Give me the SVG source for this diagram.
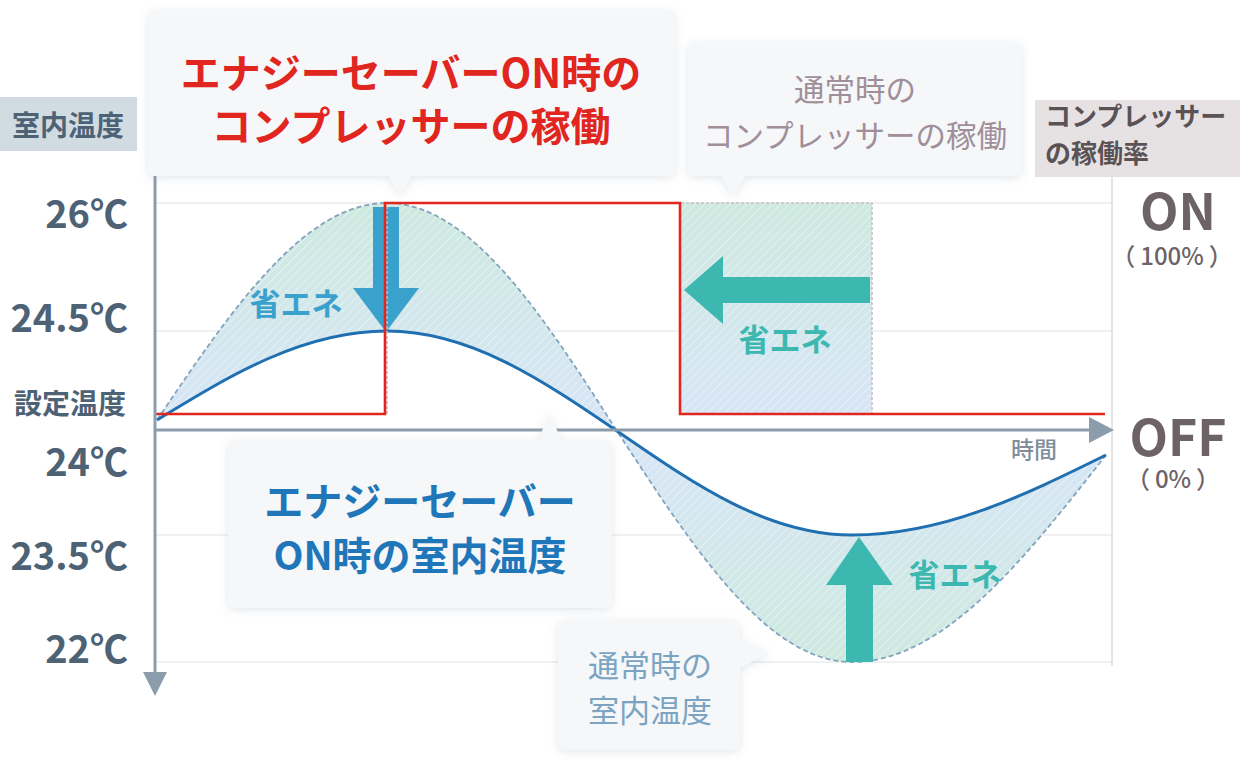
<svg xmlns="http://www.w3.org/2000/svg" width="1240" height="780" viewBox="0 0 1240 780">
<defs>
<style>
.t{font-family:'Noto Sans CJK JP','Noto Sans',sans-serif}
.ax{font-family:'Noto Sans CJK JP','Noto Sans',sans-serif;font-weight:700;fill:#4e6275;font-size:38px;text-anchor:end}
.grid{stroke:#e8ebee;stroke-width:1.5;fill:none}
.box{fill:#f5f7f9;filter:url(#sh)}
.se{font-family:'Noto Sans CJK JP','Noto Sans',sans-serif;font-weight:700;font-size:31px}
</style>
<filter id="sh" x="-10%" y="-20%" width="120%" height="140%">
<feDropShadow dx="0" dy="2" stdDeviation="4" flood-color="#7d8d9c" flood-opacity="0.22"/>
</filter>
<linearGradient id="g" gradientUnits="userSpaceOnUse" x1="0" y1="203" x2="0" y2="662">
<stop offset="0" stop-color="#cde9df"/>
<stop offset="0.42" stop-color="#d6e6f4"/>
<stop offset="0.58" stop-color="#d6e6f4"/>
<stop offset="1" stop-color="#cde9df"/>
</linearGradient>
<pattern id="hatch" patternUnits="userSpaceOnUse" width="6" height="6" patternTransform="rotate(45)">
<line x1="0" y1="0" x2="0" y2="6" stroke="#ffffff" stroke-width="2" stroke-opacity="0.4"/>
</pattern>
</defs>
<rect width="1240" height="780" fill="#ffffff"/>

<g id="grid">
<line class="grid" x1="155" y1="203" x2="1112" y2="203"/>
<line class="grid" x1="155" y1="331" x2="1112" y2="331"/>
<line class="grid" x1="155" y1="535" x2="1112" y2="535"/>
<line class="grid" x1="155" y1="662" x2="1112" y2="662"/>
<line x1="1112" y1="175" x2="1112" y2="666" stroke="#dcdcdc" stroke-width="1.5"/>
</g>

<g id="saving-area">
<path d="M157 420 C232 309 304 203 387 203 C470 203 542 314 617 431 C694 549 767 662 852 662 C943 662 1023 561 1106 455 C1023 496 943 535 852 535 C767 535 694 484 617 431 C542 380 470 331 387 331 C304 331 232 374 157 420 Z" fill="url(#g)"/>
<path d="M157 420 C232 309 304 203 387 203 C470 203 542 314 617 431 C694 549 767 662 852 662 C943 662 1023 561 1106 455 C1023 496 943 535 852 535 C767 535 694 484 617 431 C542 380 470 331 387 331 C304 331 232 374 157 420 Z" fill="url(#hatch)"/>
<rect x="680" y="203" width="192" height="211" fill="url(#g)"/>
<rect x="680" y="203" width="192" height="211" fill="url(#hatch)"/>
</g>

<g id="curves">
<path d="M157 420 C232 309 304 203 387 203 C470 203 542 314 617 431 C694 549 767 662 852 662 C943 662 1023 561 1106 455" fill="none" stroke="#84a3bc" stroke-width="1.8" stroke-dasharray="5 3"/>
<path d="M157 420 C232 374 304 331 387 331 C470 331 542 380 617 431 C694 484 767 535 852 535 C943 535 1023 496 1106 455" fill="none" stroke="#1f6fb1" stroke-width="3"/>
</g>

<g id="arrows">
<polygon points="373,207 399,207 399,288 419,288 386,332 353,288 373,288" fill="#3aa1cd"/>
<polygon points="870,277 723,277 723,256 684,290 723,324 723,303 870,303" fill="#3db8b0"/>
<polygon points="846,662 873,662 873,585 893,585 859,537 826,585 846,585" fill="#3db8b0"/>
<text class="se" x="296" y="315" text-anchor="middle" fill="#3aa1cd">省エネ</text>
<text class="se" x="785" y="351" text-anchor="middle" fill="#3db8b0">省エネ</text>
<text class="se" x="955" y="586" text-anchor="middle" fill="#3db8b0">省エネ</text>
</g>

<g id="compressor">
<path d="M157 414 H387 V203 H872 V414" fill="none" stroke="#cbbfc8" stroke-width="1.6" stroke-dasharray="3 2"/>
<path d="M155 414 H385 V203 H680 V414 H1105" fill="none" stroke="#e0261e" stroke-width="2.6"/>
</g>

<g id="axes">
<line x1="155" y1="176" x2="155" y2="676" stroke="#8b9dad" stroke-width="3"/>
<polygon points="143,672 167,672 155,696" fill="#8b9dad"/>
<line x1="155" y1="430" x2="1092" y2="430" stroke="#8b9dad" stroke-width="3"/>
<polygon points="1089,417 1089,443 1114,430" fill="#8b9dad"/>
<text class="t" x="1034" y="458" font-size="23" font-weight="500" fill="#7f8e9b" text-anchor="middle">時間</text>
</g>

<g id="y-labels">
<rect x="0" y="97" width="137" height="54" fill="#d0dbe2"/>
<text class="t" x="68" y="136" font-size="28" font-weight="700" fill="#4e6275" text-anchor="middle">室内温度</text>
<text class="ax" x="128" y="228">26℃</text>
<text class="ax" x="128" y="332">24.5℃</text>
<text class="t" x="126" y="414" font-size="28" font-weight="700" fill="#4e6275" text-anchor="end">設定温度</text>
<text class="ax" x="128" y="476">24℃</text>
<text class="ax" x="128" y="570">23.5℃</text>
<text class="ax" x="128" y="663">22℃</text>
</g>

<g id="right-labels">
<rect x="1035" y="100" width="205" height="77" fill="#e6e2e4"/>
<text class="t" x="1045" y="126" font-size="26" font-weight="700" fill="#5b5256">コンプレッサー</text>
<text class="t" x="1045" y="163" font-size="26" font-weight="700" fill="#5b5256">の稼働率</text>
<text class="t" x="1178" y="230" font-size="50" font-weight="700" fill="#6d6367" text-anchor="middle">ON</text>
<text class="t" x="1172" y="265" font-size="24" font-weight="500" fill="#6d6367" text-anchor="middle" dx="0 5 0 0 0 5">（100%）</text>
<text class="t" x="1178" y="456" font-size="50" font-weight="700" fill="#6d6367" text-anchor="middle">OFF</text>
<text class="t" x="1173" y="488" font-size="24" font-weight="500" fill="#6d6367" text-anchor="middle" dx="0 5 0 5">（0%）</text>
</g>

<g id="callout-red">
<path class="box" d="M156 10 H667 Q675 10 675 18 V168 Q675 176 667 176 H412 L400 194 L388 176 H156 Q148 176 148 168 V18 Q148 10 156 10 Z"/>
<text class="t" x="411" y="88" font-size="40" font-weight="700" fill="#e0261e" text-anchor="middle">エナジーセーバーON時の</text>
<text class="t" x="411" y="141" font-size="40" font-weight="700" fill="#e0261e" text-anchor="middle">コンプレッサーの稼働</text>
</g>

<g id="callout-normal-comp">
<path class="box" d="M696 42 H1014 Q1022 42 1022 50 V168 Q1022 176 1014 176 H745 L733 196 L721 176 H696 Q688 176 688 168 V50 Q688 42 696 42 Z"/>
<text class="t" x="855" y="101" font-size="30.5" font-weight="400" fill="#a08e99" text-anchor="middle">通常時の</text>
<text class="t" x="855" y="147" font-size="30.5" font-weight="400" fill="#a08e99" text-anchor="middle">コンプレッサーの稼働</text>
</g>

<g id="callout-blue">
<path class="box" d="M236 441 H538 L549 413 L562 441 H604 Q612 441 612 449 V600 Q612 608 604 608 H236 Q228 608 228 600 V449 Q228 441 236 441 Z"/>
<text class="t" x="420" y="516" font-size="39" font-weight="700" fill="#1f76b9" text-anchor="middle">エナジーセーバー</text>
<text class="t" x="420" y="570" font-size="39" font-weight="700" fill="#1f76b9" text-anchor="middle">ON時の室内温度</text>
</g>

<g id="callout-normal-temp">
<path class="box" d="M566 620 H732 Q740 620 740 628 V640 L769 653 L740 668 V742 Q740 750 732 750 H566 Q558 750 558 742 V628 Q558 620 566 620 Z"/>
<text class="t" x="650" y="677" font-size="31" font-weight="400" fill="#7ba4c2" text-anchor="middle">通常時の</text>
<text class="t" x="650" y="722" font-size="31" font-weight="400" fill="#7ba4c2" text-anchor="middle">室内温度</text>
</g>
</svg>
